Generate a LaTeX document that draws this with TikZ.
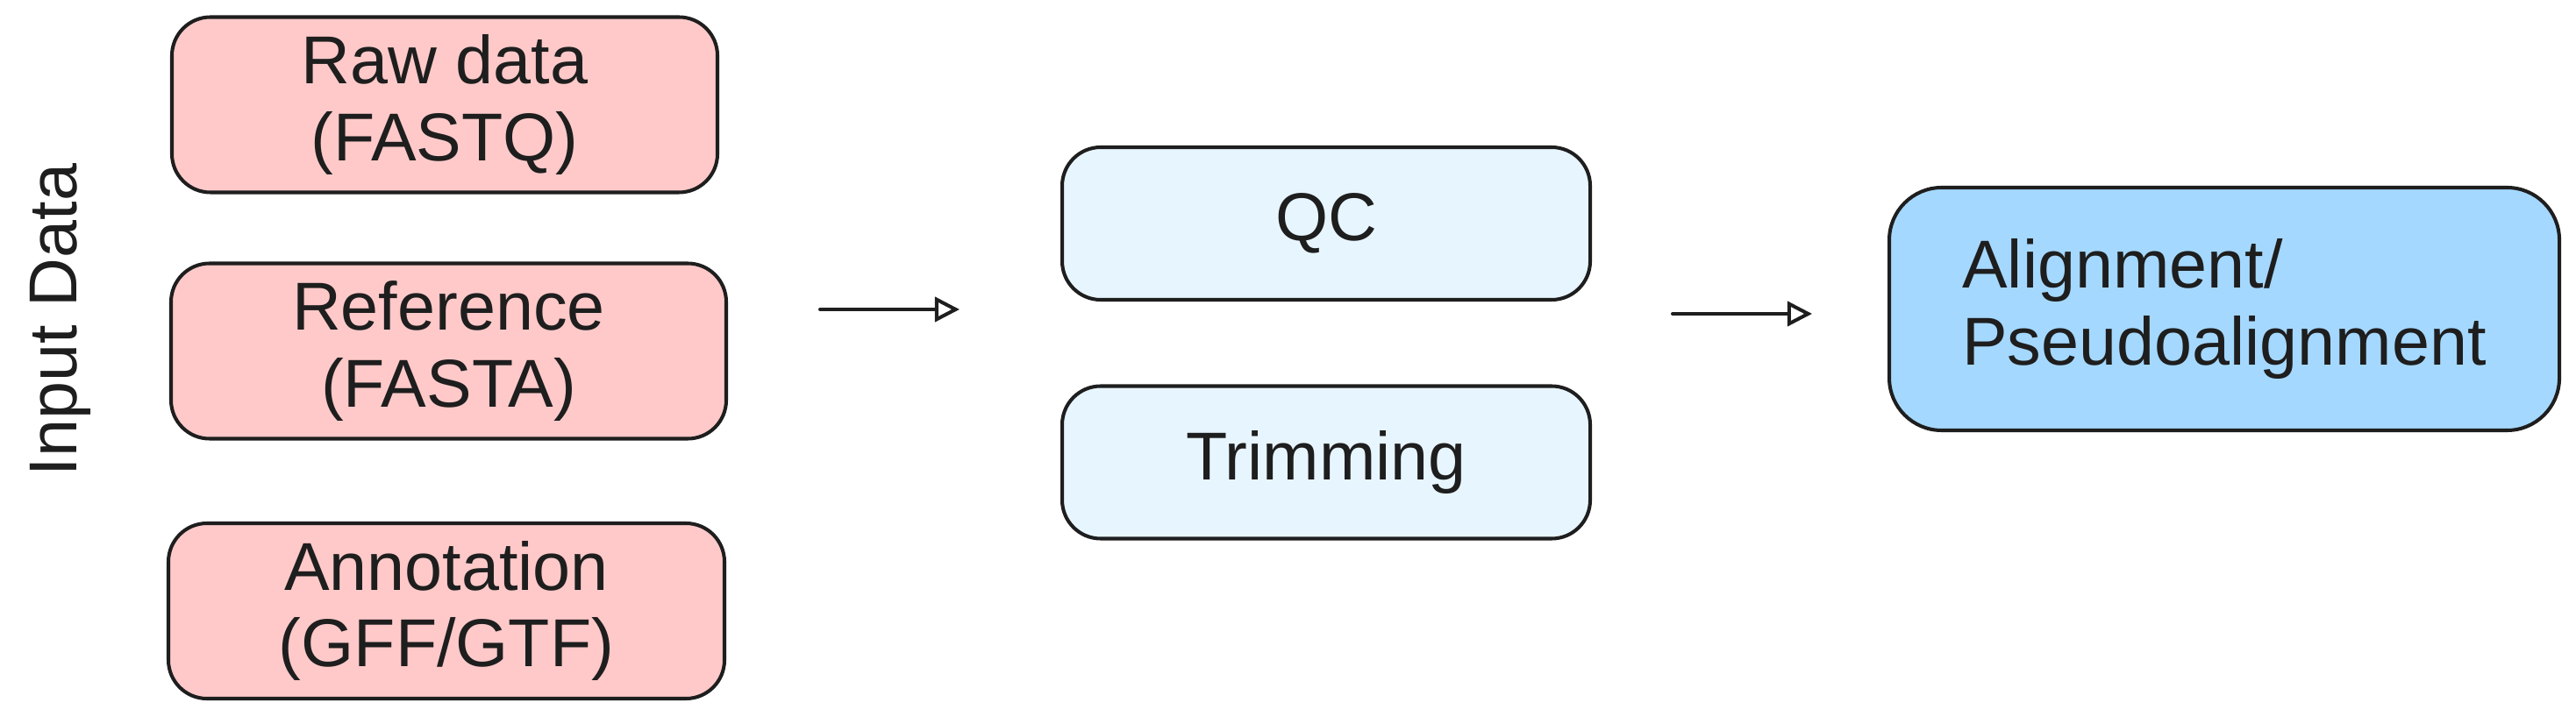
\documentclass[tikz,border=0pt]{standalone}
\usepackage{fontspec}
\setmainfont{Liberation Sans}
\usetikzlibrary{arrows.meta}
\definecolor{ink}{HTML}{1E1E1E}
\definecolor{inred}{HTML}{FFC9C9}
\definecolor{prelt}{HTML}{E7F5FF}
\definecolor{alnblu}{HTML}{A5D8FF}
\tikzset{
  box/.style={draw=ink, line width=1.15pt, rounded corners=12.5pt, align=center, text=ink, font=\fontsize{22}{25}\selectfont},
  inbox/.style={box, fill=inred, minimum height=2cm},
  prebox/.style={box, fill=prelt, minimum width=6.02cm, minimum height=1.74cm},
  alnbox/.style={box, fill=alnblu, minimum width=7.64cm, minimum height=2.77cm, rounded corners=17pt, align=left},
  flow/.style={draw=ink, line width=1.15pt, line cap=round, -{Triangle[open,length=8pt,width=8pt]}},
  side/.style={rotate=90, text=ink, font=\fontsize{22}{25}\selectfont},
}

\begin{document}
\begin{tikzpicture}
 \useasboundingbox (0,0) rectangle (29.37,8.17);
 \node[inbox, minimum width=6.22cm] (raw) at (5.07,6.975) {Raw data\\(FASTQ)};
 \node[inbox, minimum width=6.33cm] (ref) at (5.115,4.165) {Reference\\(FASTA)};
 \node[inbox, minimum width=6.34cm] (ann) at (5.09,1.20) {Annotation\\(GFF/GTF)};
 \node[side] (indata) at (0.69,4.52) {Input Data};
 \node[prebox] (qc) at (15.12,5.62) {QC};
 \node[prebox] (trim) at (15.12,2.895) {Trimming};
 \node[alnbox] (aln) at (25.36,4.645) {Alignment/\\Pseudoalignment};
 \coordinate (a1s) at (9.35,4.64);
 \coordinate (a1e) at (10.94,4.64);
 \coordinate (a2s) at (19.07,4.59);
 \coordinate (a2e) at (20.66,4.59);
 \draw[flow] (a1s) -- (a1e);
 \draw[flow] (a2s) -- (a2e);
\end{tikzpicture}
\end{document}
